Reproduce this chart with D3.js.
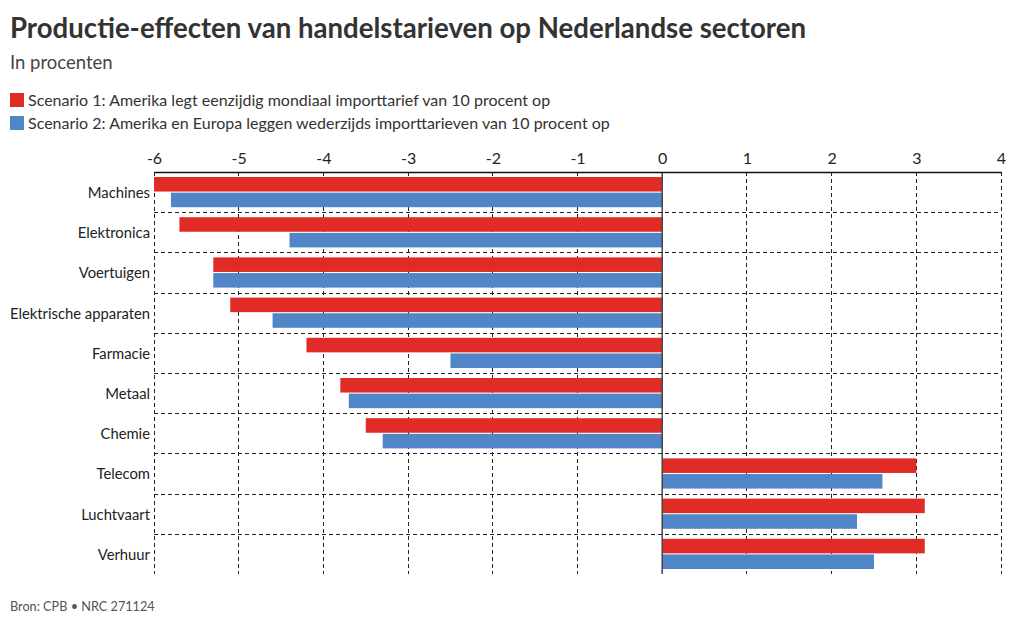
<!DOCTYPE html>
<html><head><meta charset="utf-8">
<script src="https://cdn.jsdelivr.net/npm/d3@7"></script>
<style>
body{margin:0;background:#fff;}
svg{display:block;font-family:Lato,"Noto Sans",sans-serif;}
</style></head>
<body><svg id="c" width="1020" height="626"></svg>
<script>
const categories = ["Machines","Elektronica","Voertuigen","Elektrische apparaten","Farmacie","Metaal","Chemie","Telecom","Luchtvaart","Verhuur"];
const scenario1 = [-6.0,-5.7,-5.3,-5.1,-4.2,-3.8,-3.5,3.0,3.1,3.1];
const scenario2 = [-5.8,-4.4,-5.3,-4.6,-2.5,-3.7,-3.3,2.6,2.3,2.5];
const seriesNames = ["Scenario 1: Amerika legt eenzijdig mondiaal importtarief van 10 procent op","Scenario 2: Amerika en Europa leggen wederzijds importtarieven van 10 procent op"];
const colors = ["#e02b27","#5086c8"];
const xTicks = [-6,-5,-4,-3,-2,-1,0,1,2,3,4];

const svg = d3.select("#c");
const L=154, R=1001, T=172, B=574;
const x = d3.scaleLinear().domain([-6,4]).range([L,R]);
const y = d3.scaleBand().domain(categories).range([T,B]);
const inner = d3.scaleBand().domain([0,1]).range([5, y.bandwidth()-5]).paddingInner(0.07);

svg.append("text").attr("x",10).attr("y",38).attr("font-size",27.6).attr("font-weight",700).attr("fill","#333")
  .text("Productie-effecten van handelstarieven op Nederlandse sectoren");
svg.append("text").attr("x",10).attr("y",69).attr("font-size",18.5).attr("fill","#444").text("In procenten");

const leg = svg.append("g");
seriesNames.forEach((n,i)=>{
  leg.append("rect").attr("x",10).attr("y",93+i*23).attr("width",14).attr("height",14).attr("fill",colors[i]);
  leg.append("text").attr("x",28).attr("y",106+i*23).attr("font-size",16).attr("fill","#333").text(n);
});

// gridlines
const g = svg.append("g");
g.selectAll(".vg").data(xTicks.filter(d=>d!==0)).join("line")
  .attr("x1",d=>x(d)).attr("x2",d=>x(d)).attr("y1",T).attr("y2",B)
  .attr("stroke","#222").attr("stroke-dasharray","4,3").attr("stroke-width",1).attr("shape-rendering","crispEdges");
g.selectAll(".hg").data(categories.slice(1)).join("line")
  .attr("x1",L).attr("x2",R).attr("y1",d=>Math.round(y(d))).attr("y2",d=>Math.round(y(d)))
  .attr("stroke","#222").attr("stroke-dasharray","4,3").attr("stroke-width",1).attr("shape-rendering","crispEdges");

// bars
const data = categories.map((c,i)=>({c, v:[scenario1[i],scenario2[i]]}));
const rows = svg.append("g").selectAll("g").data(data).join("g").attr("transform",d=>`translate(0,${y(d.c)})`);
rows.selectAll("rect").data(d=>d.v.map((v,k)=>({v,k}))).join("rect")
  .attr("x",d=>x(Math.min(0,d.v))).attr("width",d=>Math.abs(x(d.v)-x(0)))
  .attr("y",d=>inner(d.k)).attr("height",inner.bandwidth()).attr("fill",d=>colors[d.k]);

// zero line
svg.append("line").attr("x1",x(0)).attr("x2",x(0)).attr("y1",T).attr("y2",B).attr("stroke","#444").attr("stroke-width",1.5);

// top axis
const ax = svg.append("g").attr("transform",`translate(0,${T})`)
  .call(d3.axisTop(x).tickValues(xTicks).tickSize(0).tickPadding(8).tickFormat(d=>d<0?"-"+Math.abs(d):d));
ax.select(".domain").attr("stroke","#111").attr("stroke-width",1.5);
ax.selectAll("text").attr("font-size",16).attr("fill","#222").attr("font-family","Lato,'Noto Sans',sans-serif");

// y labels
const ay = svg.append("g").attr("transform",`translate(${L},0)`)
  .call(d3.axisLeft(y).tickSize(0).tickPadding(4));
ay.select(".domain").remove();
ay.selectAll("text").attr("font-size",14.8).attr("dy","0.4em").attr("fill","#222").attr("font-family","Lato,'Noto Sans',sans-serif");

svg.append("text").attr("x",10).attr("y",611).attr("font-size",12.7).attr("fill","#555").text("Bron: CPB \u2022 NRC 271124");
</script></body></html>
